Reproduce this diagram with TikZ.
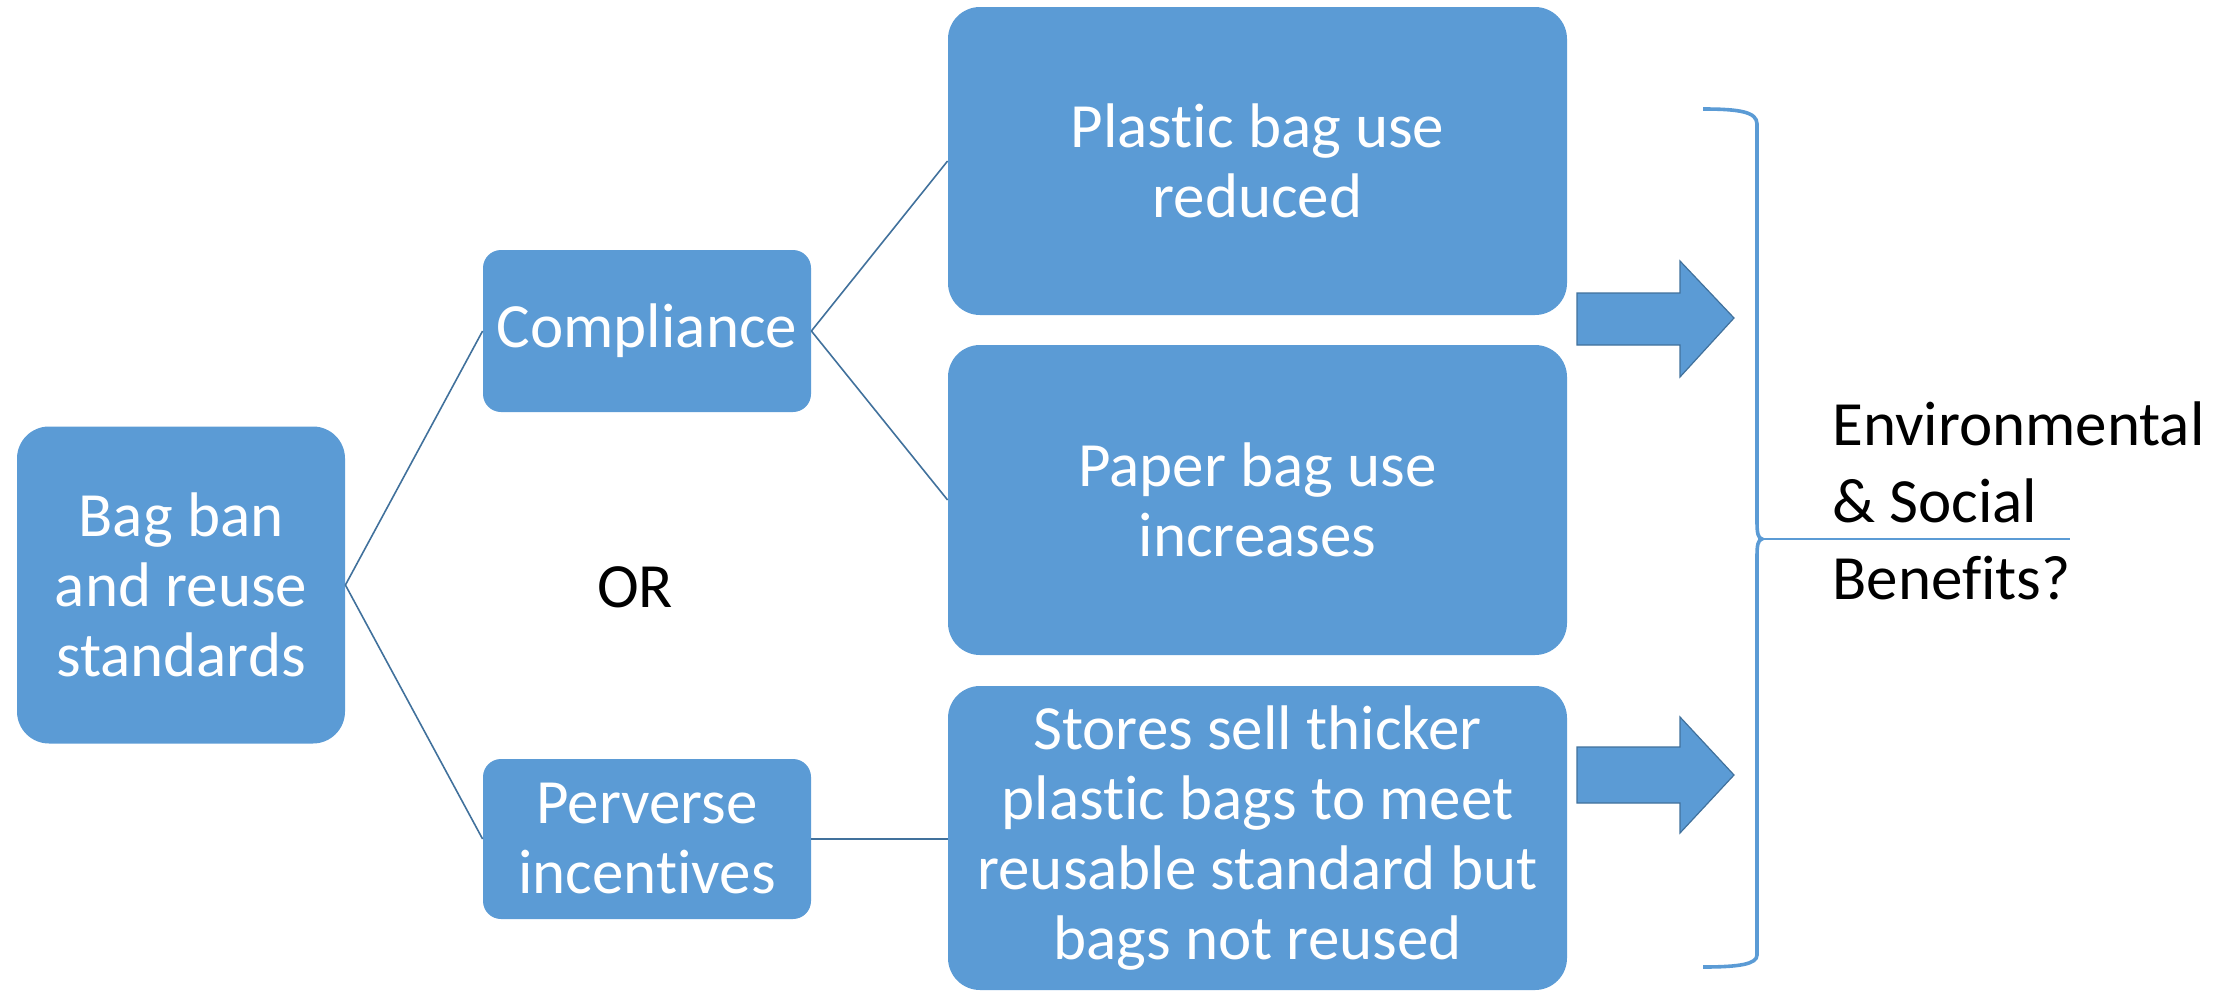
\documentclass[tikz,border=0pt]{standalone}
\usepackage{fontspec}
\setmainfont{Carlito}[RawFeature={-liga;-clig;-calt;-dlig}]
\definecolor{boxblue}{HTML}{5B9BD5}
\definecolor{lineblue}{HTML}{41719C}
\begin{document}
\begin{tikzpicture}[x=0.5pt,y=-0.5pt,
  box/.style={rounded corners=#1, fill=boxblue, text=white, align=center, inner sep=0pt,
    font=\fontsize{31.5}{35}\selectfont},
  box/.default=16pt,
  conn/.style={draw=lineblue, line width=0.8pt},
  bigarrow/.style={fill=boxblue, draw=lineblue, line width=0.6pt, line join=miter},
  brace/.style={draw=boxblue, line width=1.8pt}]
\useasboundingbox (0,0) rectangle (2228,991);
% boxes
\node[box, minimum width=164pt, minimum height=158.5pt] (bag) at (181,585) {Bag ban\\and reuse\\standards};
\node[box=9pt, minimum width=164pt, minimum height=81pt] (comp) at (647,331) {Compliance};
\node[box=9pt, minimum width=164pt, minimum height=80pt] (perv) at (647,839) {Perverse\\incentives};
\node[box, minimum width=309.5pt, minimum height=154pt] (plast) at (1257.5,161) {Plastic bag use\\reduced};
\node[box, minimum width=309.5pt, minimum height=155pt] (paper) at (1257.5,500) {Paper bag use\\increases};
\node[box, minimum width=309.5pt, minimum height=152pt] (stores) at (1257.5,838) {Stores sell thicker\\plastic bags to meet\\reusable standard but\\bags not reused};
\node[font=\fontsize{31.5}{35}\selectfont, inner sep=0pt] (or) at (635,587) {OR};
\node[font=\fontsize{31.5}{38.5}\selectfont, align=left, anchor=west, inner sep=0pt] (ben) at (1832,501) {Environmental\\\& Social\\Benefits?};
% connectors
\draw[conn] (bag.east) -- (comp.west);
\draw[conn] (bag.east) -- (perv.west);
\draw[conn] (comp.east) -- (plast.west);
\draw[conn] (comp.east) -- (paper.west);
\draw[conn] (perv.east) -- (perv.east -| stores.west);
% block arrows
\draw[bigarrow] (1577,293) -- (1680,293) -- (1680,261) -- (1734,318) -- (1680,377) -- (1680,345) -- (1577,345) -- cycle;
\draw[bigarrow] (1577,747) -- (1680,747) -- (1680,717) -- (1734,775) -- (1680,833) -- (1680,803) -- (1577,803) -- cycle;
% brace
\coordinate (btop) at (1703,109);
\coordinate (btip) at (1762,539);
\coordinate (bbot) at (1703,967);
\coordinate (lend) at (2070,539);
\draw[brace] (btop) .. controls (1740,109) and (1757,112) .. (1757,124) -- (1757,522)
  .. controls (1757,533) and (1758,538) .. (btip)
  .. controls (1758,540) and (1757,545) .. (1757,556) -- (1757,955)
  .. controls (1757,964) and (1740,967) .. (bbot);
\draw[draw=boxblue, line width=1.2pt] (btip) -- (lend);
\end{tikzpicture}
\end{document}
